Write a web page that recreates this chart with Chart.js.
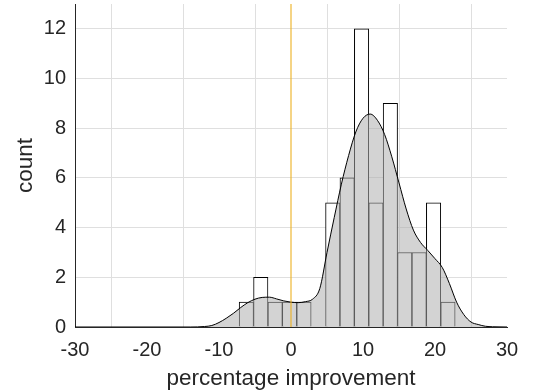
<!DOCTYPE html>
<html>
<head>
<meta charset="utf-8">
<script src="https://cdn.jsdelivr.net/npm/chart.js@4"></script>
<style>
	html, body { margin: 0; padding: 0; background: #fff; }
	#wrap { width: 560px; height: 392px; }
</style>
</head>
<body>
<div id="wrap"><canvas id="myChart"></canvas></div>
<script>
// histogram: bin centres and counts
const binCenters = [-6.2, -4.2, -2.2, -0.2, 1.8, 3.8, 5.8, 7.8, 9.8, 11.8, 13.8, 15.8, 17.8, 19.8, 21.8]
const binCounts = [1, 2, 1, 1, 1, 0, 5, 6, 12, 5, 9, 3, 3, 5, 1]

// density curve (scaled to counts)
const kdeX = [-30, -14, -12, -11, -10, -9, -8, -7, -6, -5, -4, -3, -2, -1, 0, 1, 2, 3, 4, 5, 6, 7, 8, 9, 10, 11, 12, 13, 14, 15, 16, 17, 18, 19, 20, 21, 22, 23, 24, 25, 26, 27, 28, 30]
const kdeY = [0, 0, 0.02, 0.06, 0.18, 0.35, 0.55, 0.78, 0.98, 1.12, 1.19, 1.2, 1.13, 1.05, 1.0, 0.98, 1.02, 1.12, 1.55, 3.0, 4.4, 5.75, 6.9, 7.85, 8.4, 8.57, 8.32, 7.75, 6.85, 5.8, 4.75, 3.9, 3.4, 3.08, 2.75, 2.4, 1.75, 1.0, 0.5, 0.2, 0.1, 0.03, 0.01, 0]

const xTicks = [-30, -20, -10, 0, 10, 20, 30]
const yTicks = [0, 2, 4, 6, 8, 10, 12]
const refLine = 0

const textColor = '#262626'
const fontFamily = "'Liberation Sans', Arial, sans-serif"

const ctx = document.getElementById('myChart')

new Chart(ctx, {
	data: {
		datasets: [
			{
				type: 'bar',
				data: binCenters.map((x, i) => ({ x: x, y: binCounts[i] })),
				backgroundColor: '#ffffff',
				borderColor: '#000000',
				borderWidth: 1,
				borderSkipped: 'start',
				barPercentage: 1,
				categoryPercentage: 1,
				order: 3,
			},
			{
				type: 'line',
				data: kdeX.map((x, i) => ({ x: x, y: kdeY[i] })),
				borderColor: '#000000',
				borderWidth: 1,
				backgroundColor: 'rgba(170,170,170,0.52)',
				fill: 'origin',
				pointRadius: 0,
				cubicInterpolationMode: 'monotone',
				order: 2,
			},
			{
				type: 'line',
				data: [
					{ x: refLine, y: 0 },
					{ x: refLine, y: 13 },
				],
				borderColor: 'rgba(237,177,32,0.55)',
				borderWidth: 2,
				pointRadius: 0,
				fill: false,
				order: 1,
			},
		],
	},
	options: {
		responsive: true,
		maintainAspectRatio: false,
		animation: false,
		layout: {
			padding: { top: 4, right: 53, left: 0, bottom: 0 },
		},
		scales: {
			x: {
				type: 'linear',
				min: -30,
				max: 30,
				offset: false,
				afterBuildTicks: (axis) => {
					axis.ticks = xTicks.map((v) => ({ value: v }))
				},
				afterFit: (axis) => {
					axis.height = 65
				},
				grid: {
					color: '#dfdfdf',
					drawTicks: false,
				},
				border: { color: textColor, width: 1 },
				ticks: {
					color: textColor,
					font: { family: fontFamily, size: 20 },
					padding: 11,
					maxRotation: 0,
				},
				title: {
					display: true,
					text: 'percentage improvement',
					color: textColor,
					font: { family: fontFamily, size: 22.5 },
					padding: { top: 0, bottom: 0 },
				},
			},
			y: {
				min: 0,
				max: 13,
				afterBuildTicks: (axis) => {
					axis.ticks = yTicks.map((v) => ({ value: v }))
				},
				afterFit: (axis) => {
					axis.width = 75
					axis.paddingTop = 0
					axis.paddingBottom = 0
				},
				grid: {
					color: '#dfdfdf',
					drawTicks: false,
				},
				border: { color: textColor, width: 1 },
				ticks: {
					color: textColor,
					font: { family: fontFamily, size: 20 },
					padding: 9,
				},
				title: {
					display: true,
					text: 'count',
					color: textColor,
					font: { family: fontFamily, size: 22.5 },
					padding: { top: 12, bottom: 6 },
				},
			},
		},
		plugins: {
			legend: { display: false },
			tooltip: { enabled: false },
		},
	},
})
</script>
</body>
</html>
